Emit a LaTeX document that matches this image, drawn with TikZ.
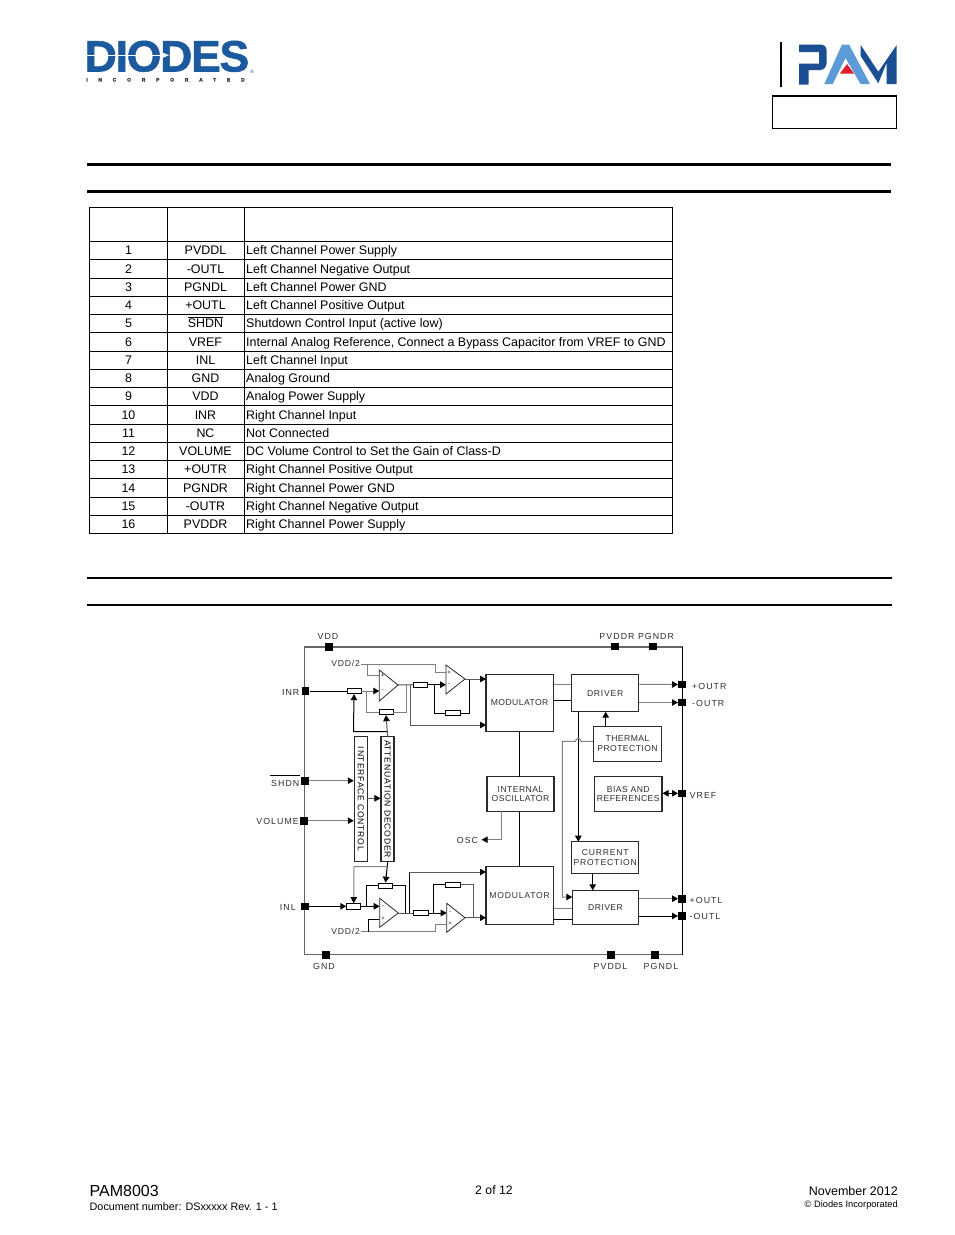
\documentclass[tikz,border=0pt]{standalone}
\usepackage{fontspec}
\setmainfont{Liberation Sans}
\newfontfamily\diagf[LetterSpace=5]{Liberation Sans}
\newfontfamily\diagw[LetterSpace=9]{Liberation Sans}
\newfontfamily\pinf[LetterSpace=12]{Liberation Sans}
\newfontfamily\logof[LetterSpace=-3,FakeBold=1.2]{Liberation Sans Bold}
\newfontfamily\incf[LetterSpace=215,FakeBold=1]{Liberation Sans Bold}
\usetikzlibrary{arrows.meta,calc}
\definecolor{lblc}{HTML}{2E2E2E}
\definecolor{wireg}{HTML}{808080}
\definecolor{boxc}{HTML}{2A2A2A}
\definecolor{diodesb}{HTML}{1B5A9E}
\definecolor{pamdark}{HTML}{1B4F93}
\definecolor{pamlight}{HTML}{5C9BD5}
\definecolor{pamred}{HTML}{DC1E2D}
\tikzset{
  tab/.style={inner sep=0pt,anchor=base,font=\fontsize{12.45}{14}\selectfont},
  tabl/.style={tab,anchor=base west},
  rulethick/.style={line width=2.6pt,black},
  rulethin/.style={line width=1.6pt,black},
  gridl/.style={line width=.8pt,black},
  lbl/.style={inner sep=0pt,text=lblc,font=\fontsize{8.8}{10}\pinf},
  blk/.style={draw=boxc,line width=1.1pt,fill=white,inner sep=0pt,align=center,text=lblc,font=\fontsize{8.6}{9.8}\diagf},
  pin/.style={fill=black,inner sep=0pt,minimum width=7.6pt,minimum height=7.6pt},
  res/.style={draw=black,line width=.8pt,fill=white,inner sep=0pt,minimum width=14pt,minimum height=5.5pt},
  bw/.style={line width=1pt,black},
  gw/.style={line width=1pt,wireg},
  dg/.style={line width=1pt,black!65},
  arr/.style={-{Triangle[length=6pt,width=6.5pt,black]}},
  barr/.style={{Triangle[length=6pt,width=6.5pt,black]}-{Triangle[length=6pt,width=6.5pt,black]}},
  oa/.style={draw=boxc,line width=.8pt,fill=white},
  sgn/.style={inner sep=0pt,font=\fontsize{6}{6}\selectfont,text=black},
  foot/.style={inner sep=0pt}
}
\begin{document}
\begin{tikzpicture}[x=1pt,y=-1pt]
\useasboundingbox (0,0) rectangle (954,1235);
\fill[white] (0,0) rectangle (954,1235);
% Diodes logo
\node[inner sep=0pt,anchor=base west,text=diodesb,xscale=1.015] (dlogo) at (84.5,71.5) {\fontsize{44}{46}\logof DIODES};
\fill[white] (85,54.6) rectangle (160,55.8);
\fill[white] (160,51.5) -- (160,59) -- (169,55.2) -- cycle;
\node[inner sep=0pt,text=diodesb,font=\fontsize{5}{5}\selectfont] (dreg) at (252,71.5) {®};
\node[inner sep=0pt,anchor=base west,text=black!80] (dinc) at (86,81.5) {\fontsize{5}{6}\incf INCORPORATED};
% PAM logo
\draw[line width=1.1pt,black] (781,42) -- (781,86.5);
\fill[pamdark] (799,44.5) -- (820,44.5) .. controls (824.5,44.5) and (826.7,47) .. (826.7,51) -- (826.7,62) .. controls (826.7,67) and (824,70) .. (820,70) -- (808.5,70) -- (808.5,84.5) -- (799,84.5) -- (799,63.5) -- (819,63.5) -- (819,52) -- (799,52) -- cycle;
\fill[pamlight] (842,44.5) -- (849,44.5) -- (870,84) -- (860.5,84) -- (845.5,58) -- (832.7,84) -- (824.3,84) -- cycle;
\fill[pamred] (847,64) -- (840,73.5) -- (854,73.5) -- cycle;
\fill[pamdark] (860.7,45) -- (878.3,71.7) -- (896.7,45) -- (896.7,84) -- (886.7,84) -- (886.7,62.7) -- (878.3,83.3) -- (860.7,56) -- cycle;
\node[draw=black,line width=1.5pt,inner sep=0pt,minimum width=124pt,minimum height=32.5pt] (partbox) at (834.5,112) {};
% section rules
\draw[rulethick] (87,164.5) -- (891,164.5);
\draw[rulethick] (87,191.5) -- (891,191.5);
\draw[rulethin] (87,578) -- (892,578);
\draw[rulethin] (87,605) -- (892,605);
% table
\draw[gridl] (89.5,207.5) rectangle (672.5,533.5);
\draw[gridl] (167.5,207.5) -- (167.5,533.5);
\draw[gridl] (244.5,207.5) -- (244.5,533.5);
\foreach \r in {0,...,15} \draw[gridl] (89.5,241.5+18.25*\r) -- (672.5,241.5+18.25*\r);
\foreach \n/\nm/\ds [count=\i] in {
 1/PVDDL/{Left Channel Power Supply},
 2/-OUTL/{Left Channel Negative Output},
 3/PGNDL/{Left Channel Power GND},
 4/+OUTL/{Left Channel Positive Output},
 5/{$\overline{\mbox{SHDN}}$}/{Shutdown Control Input (active low)},
 6/VREF/{Internal Analog Reference, Connect a Bypass Capacitor from VREF to GND},
 7/INL/{Left Channel Input},
 8/GND/{Analog Ground},
 9/VDD/{Analog Power Supply},
 10/INR/{Right Channel Input},
 11/NC/{Not Connected},
 12/VOLUME/{DC Volume Control to Set the Gain of Class-D},
 13/+OUTR/{Right Channel Positive Output},
 14/PGNDR/{Right Channel Power GND},
 15/-OUTR/{Right Channel Negative Output},
 16/PVDDR/{Right Channel Power Supply}}{
  \node[tab] (tn\i) at (128.5,241.5+18.25*\i-18.25/2+4.15) {\n};
  \node[tab] (tm\i) at (205.5,241.5+18.25*\i-18.25/2+4.15) {\nm};
  \node[tabl] (td\i) at (246,241.5+18.25*\i-18.25/2+4.15) {\ds};
}
% block outline
\draw[line width=1.1pt,black!60] (682.5,647) -- (304.7,647) -- (304.7,954.7) -- (682.5,954.7);
\draw[line width=1.2pt,black] (682.5,647) -- (682.5,954.7);
% pins
\node[pin] (pVDD) at (329,647) {};
\node[pin] (pPVDDR) at (615,646.5) {};
\node[pin] (pPGNDR) at (653,646.5) {};
\node[pin] (pINR) at (305.5,691) {};
\node[pin] (pSHDN) at (305,780.7) {};
\node[pin] (pVOL) at (304,820.7) {};
\node[pin] (pINL) at (305,906.3) {};
\node[pin] (pGND) at (326,955) {};
\node[pin] (pPVDDL) at (611,955) {};
\node[pin] (pPGNDL) at (655,955) {};
\node[pin] (pOUTRp) at (682,684.5) {};
\node[pin] (pOUTRm) at (682,702.5) {};
\node[pin] (pVREF) at (682,793.3) {};
\node[pin] (pOUTLp) at (682,898.7) {};
\node[pin] (pOUTLm) at (682,916) {};
% pin labels
\node[lbl] (lVDD) at (328,636) {VDD};
\node[lbl] (lPV) at (617,636) {PVDDR};
\node[lbl] (lPG) at (656,636) {PGNDR};
\node[lbl,anchor=east] (lINR) at (299.5,692.5) {INR};
\node[lbl,anchor=east] (lSHDN) at (299.5,783) {SHDN};
\draw[line width=.8pt,black] (270,775.3) -- (300,775.3);
\node[lbl,anchor=east] (lVOL) at (299,821.5) {VOLUME};
\node[lbl,anchor=east] (lINL) at (296,907) {INL};
\node[lbl] (lGND) at (324,966) {GND};
\node[lbl] (lPVL) at (610.5,966.5) {PVDDL};
\node[lbl] (lPGL) at (661,966.5) {PGNDL};
\node[lbl,anchor=west] (lOR1) at (692,686) {+OUTR};
\node[lbl,anchor=west] (lOR2) at (692,703.5) {-OUTR};
\node[lbl,anchor=west] (lVR) at (689.5,795) {VREF};
\node[lbl,anchor=west] (lOL1) at (689.5,900.5) {+OUTL};
\node[lbl,anchor=west] (lOL2) at (689.5,916.5) {-OUTL};
\node[lbl,anchor=east,font=\fontsize{8.6}{10}\diagw] (lV1) at (360,663) {VDD/2};
\node[lbl,anchor=east,font=\fontsize{8.6}{10}\diagw] (lV2) at (360,931.5) {VDD/2};
\node[lbl] (lOSC) at (467.5,840.5) {OSC};
% blocks
\node[blk,minimum width=67.3pt,minimum height=57.4pt] (mod1) at (519.65,703) {MODULATOR};
\node[blk,minimum width=67pt,minimum height=37pt] (drv1) at (605.2,693.2) {\diagw DRIVER};
\node[blk,minimum width=67.6pt,minimum height=35pt] (therm) at (627.5,743.8) {THERMAL\\PROTECTION};
\node[blk,minimum width=67.3pt,minimum height=34.6pt] (bias) at (628.3,794) {BIAS AND\\REFERENCES};
\node[blk,minimum width=67pt,minimum height=34.6pt] (osc) at (520.5,794) {INTERNAL\\OSCILLATOR};
\node[blk,minimum width=67pt,minimum height=31.6pt] (cur) at (605.2,857.5) {\diagw CURRENT\\\diagw PROTECTION};
\node[blk,minimum width=66.4pt,minimum height=33.7pt] (drv2) at (605.5,907.2) {DRIVER};
\node[blk,minimum width=67.3pt,minimum height=58.7pt] (mod2) at (519.65,895.4) {\diagw MODULATOR};
\node[blk,minimum width=13pt,minimum height=125.4pt,text=black] (intf) at (360.8,799) {\rotatebox{-90}{\diagw INTERFACE CONTROL}};
\node[blk,minimum width=13pt,minimum height=125.4pt,text=black] (att) at (387.5,799) {\rotatebox{-90}{\diagw ATTENUATION DECODER}};
% resistors
\node[res] (r1) at (354,691) {};
\node[res] (r2) at (386,712) {};
\node[res] (r3) at (420.7,684.7) {};
\node[res,minimum width=15pt] (r4) at (452.6,713) {};
\node[res] (r5) at (385.5,885.8) {};
\node[res] (r6) at (353.7,906.3) {};
\node[res,minimum width=15pt] (r7) at (420.8,913) {};
\node[res,minimum width=15pt] (r8) at (452.6,884.8) {};
% op amps
\coordinate (o1) at (398,685); \coordinate (o2) at (465,679);
\coordinate (o3) at (398.3,913); \coordinate (o4) at (465,917.7);
% wires upper channel
\draw[gw] (lV1.east) ++(1,1) coordinate (v1s) -- (435,664) -- (435,672.3) -- (446,672.3);
\draw[gw] (367,664) -- (367,675.7) -- (379.3,675.7);
\draw[bw] (pINR) -- (r1.west);
\draw[gw,arr] (r1.east) -- (379.3,691);
\draw[gw] (366.7,691) -- (366.7,712) -- (r2.west);
\draw[gw] (r2.east) -- (406.7,712) -- (406.7,685);
\draw[dg] (o1) -- (r3.west);
\draw[bw,arr] (r3.east) -- (446,684.7);
\draw[bw] (434.3,684.7) -- (434.3,713) -- (r4.west);
\draw[bw] (r4.east) -- (469.7,713) -- (469.7,679);
\draw[dg,arr] (o2) -- (486,679);
\draw[dg,arr] (410,684.7) -- (410,725) -- (486,725);
\draw[bw,arr] (387.7,731.7) -- (353.5,731.7) -- (r1.south);
\draw[dg,arr] (387.7,736.3) -- (r2.south);
% interface
\draw[gw,arr] (pSHDN) -- (intf.west |- pSHDN);
\draw[gw,arr] (pVOL) -- (intf.west |- pVOL);
\draw[dg,arr] (intf.east |- 0,798.3) -- (att.west |- 0,798.3);
% wires lower channel
\draw[bw,arr] (att.south -| 387.7,0) -- (r5.north);
\draw[gw,arr] (387.7,866.7) -- (354,866.7) -- (r6.north);
\draw[bw,arr] (pINL) -- (r6.west);
\draw[bw,arr] (r6.east) -- (379.7,906.3);
\draw[bw] (366.3,906.3) -- (366.3,885.8) -- (r5.west);
\draw[bw] (r5.east) -- (405.7,885.8) -- (405.7,913);
\draw[dg] (o3) -- (r7.west);
\draw[bw,arr] (r7.east) -- (446.7,913);
\draw[bw] (409.3,913) -- (409.3,872);
\draw[dg,arr] (409.3,872) -- (486,872);
\draw[bw] (433.7,913) -- (433.7,884.8) -- (r8.west);
\draw[dg] (r8.east) -- (473.3,884.8) -- (473.3,917.7);
\draw[dg,arr] (o4) -- (486,917.7);
\draw[gw] (361,931.7) -- (435.3,931.7) -- (435.3,924) -- (446.7,924);
\draw[bw] (368,931.7) -- (368,919) -- (379.7,919);
% op amp triangles
\draw[oa] (379.3,670) -- (379.3,701) -- (o1) -- cycle;
\draw[oa] (446,665) -- (446,694) -- (o2) -- cycle;
\draw[oa] (379.7,898.3) -- (379.7,927.3) -- (o3) -- cycle;
\draw[oa] (446.7,903.3) -- (446.7,932.3) -- (o4) -- cycle;
\node[sgn] (s1p) at (382.5,675.7) {+};
\node[sgn] (s1m) at (382.5,691) {-};
\node[sgn] (s2p) at (449,672.3) {+};
\node[sgn] (s2m) at (449,684.7) {-};
\node[sgn] (s3m) at (383,906.3) {-};
\node[sgn] (s3p) at (383,919) {+};
\node[sgn] (s4m) at (450,913) {-};
\node[sgn] (s4p) at (450,924) {+};
% right side
\draw[bw] (519.3,731.7) -- (519.3,776.7);
\draw[bw] (519.3,811.3) -- (519.3,866);
\draw[gw] (mod1.east |- 0,684.3) -- (drv1.west |- 0,684.3);
\draw[bw] (mod1.east |- 0,700.3) -- (drv1.west |- 0,700.3);
\draw[gw,arr] (drv1.east |- 0,684.3) -- (pOUTRp.west);
\draw[gw,arr] (drv1.east |- 0,702.5) -- (pOUTRm.west);
\draw[bw,arr] (therm.north -| 605.7,0) -- (605.7,711.7);
\draw[bw,arr] (578.3,711.7) -- (578.3,841.7);
\draw[gw,arr] (therm.west |- 0,741.3) -- (581,741.3) .. controls (580.5,737.5) and (576,737.5) .. (575.5,741.3) -- (562.3,741.3) -- (562.3,897) -- (572.3,897);
\draw[bw,barr] (bias.east |- pVREF) -- (pVREF.west);
\draw[bw,arr] (592.7,873.3) -- (592.7,890.3);
\draw[gw,arr] (501.3,811.3) -- (501.3,839.7) -- (481.7,839.7);
\draw[gw] (mod2.east |- 0,908.3) -- (drv2.west |- 0,908.3);
\draw[bw] (mod2.east |- 0,919) -- (drv2.west |- 0,919);
\draw[gw,arr] (drv2.east |- pOUTLp) -- (pOUTLp.west);
\draw[bw,arr] (drv2.east |- pOUTLm) -- (pOUTLm.west);
% footer
\node[foot,anchor=base west,font=\fontsize{16}{18}\selectfont] (f1) at (89.5,1196) {PAM8003};
\node[foot,anchor=base west,font=\fontsize{10.8}{12}\selectfont] (f2) at (89.5,1210) {Document number: DSxxxxx Rev. 1 - 1};
\node[foot,anchor=base,font=\fontsize{12.3}{14}\selectfont] (f3) at (494,1194) {2 of 12};
\node[foot,anchor=base east,font=\fontsize{12.5}{14}\selectfont] (f4) at (898,1195) {November 2012};
\node[foot,anchor=base east,font=\fontsize{9.3}{11}\selectfont] (f5) at (898,1207) {© Diodes Incorporated};
\end{tikzpicture}
\end{document}
